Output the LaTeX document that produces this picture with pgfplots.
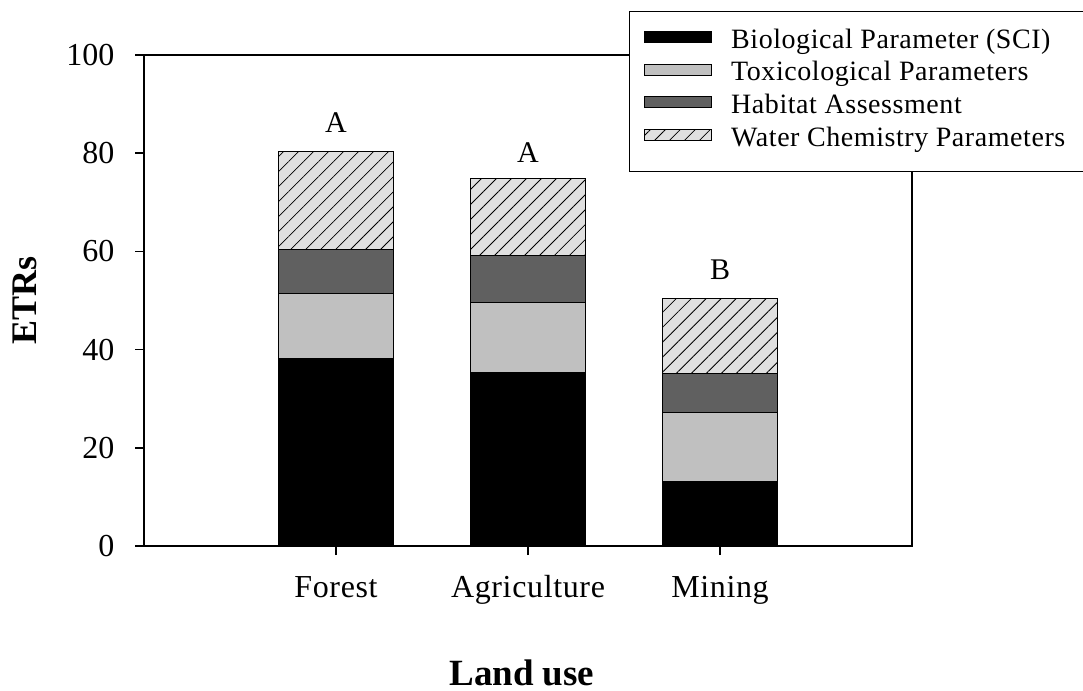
\documentclass[border=0pt]{standalone}
\usepackage{fontspec}
\setmainfont{Liberation Serif}
\newfontfamily\catfont[LetterSpace=2]{Liberation Serif}
\newfontfamily\legfont[LetterSpace=2]{Liberation Serif}
\usepackage{pgfplots}
\pgfplotsset{compat=1.18}
\usetikzlibrary{patterns.meta}
\definecolor{lgray}{HTML}{C0C0C0}
\definecolor{dgray}{HTML}{606060}
\definecolor{hgray}{HTML}{E0E0E0}
\newcommand\ls{\rule[-3.65pt]{0pt}{16.5pt}}
\newcommand\lsl{\rule[-8.65pt]{0pt}{21.5pt}}
\begin{document}
\begin{tikzpicture}
\begin{axis}[
  scale only axis, width=384pt, height=245.5pt,
  ybar stacked, bar width=0.6,
  xmin=-1, xmax=3, ymin=0, ymax=100,
  xtick={0,1,2}, xticklabels={Forest,Agriculture,Mining},
  ytick={0,20,...,100},
  tick align=outside, xtick pos=bottom, ytick pos=left,
  major tick length=4.5pt,
  axis line style={line width=0.8pt},
  tick style={line width=0.7pt, black},
  /pgf/number format/assume math mode=true,
  yticklabel style={font=\fontsize{16}{18}\selectfont, xshift=-6.8pt},
  xticklabel style={font=\fontsize{16}{18}\selectfont\catfont, anchor=north, text height=10.6pt, text depth=3pt, yshift=-7.2pt},
  xlabel={Land use}, ylabel={ETRs},
  xlabel style={font=\fontsize{18.5}{21}\selectfont\bfseries, at={(axis description cs:0.492,-0.2576)}, anchor=center},
  ylabel style={font=\fontsize{18}{21}\selectfont\bfseries, at={(axis description cs:-0.1556,0.5)}, anchor=center},
  legend cell align=left,
  legend image code/.code={\draw[#1, line width=0.4pt] (0pt,-2.75pt) rectangle (33.5pt,2.75pt);},
  legend style={name=leg, at={(rel axis cs:0.6328,1.0896)}, anchor=north west, draw=none, fill=white,
    font=\fontsize{14}{16}\selectfont\legfont, row sep=2pt, inner xsep=7pt, inner ysep=5.5pt,
    nodes={inner ysep=0pt},
    /tikz/every odd column/.append style={column sep=7.5pt}},
]
\addplot[fill=black, draw=black, line width=0.5pt] coordinates {(0,38.1) (1,35.4) (2,13.1)};
\addplot[fill=lgray, draw=black, line width=0.5pt] coordinates {(0,13.3) (1,14.1) (2,14.1)};
\addplot[fill=dgray, draw=black, line width=0.5pt] coordinates {(0,8.9) (1,9.6) (2,7.9)};
\addplot[fill=hgray, draw=black, line width=0.5pt, postaction={pattern={Lines[angle=45,distance=5.3pt,line width=0.4pt]}}] coordinates {(0,20.0) (1,15.7) (2,15.3)};
\legend{\ls Biological Parameter (SCI),\ls Toxicological Parameters,\ls Habitat Assessment,\lsl Water Chemistry Parameters}
\node[font=\fontsize{15}{17}\selectfont] at (axis cs:0,86.2) {A};
\node[font=\fontsize{15}{17}\selectfont] at (axis cs:1,80.2) {A};
\node[font=\fontsize{15}{17}\selectfont] at (axis cs:2,56.2) {B};
\end{axis}
\fill[white] ([yshift=2pt]leg.south west) rectangle ([yshift=-5.5pt]leg.south east);
\draw[line width=0.5pt] (leg.north west) rectangle ([yshift=-5.5pt]leg.south east);
\pgfresetboundingbox
\useasboundingbox ([xshift=-72pt,yshift=-72pt]current axis.south west) rectangle ([xshift=85.5pt,yshift=27.5pt]current axis.north east);
\end{tikzpicture}
\end{document}
